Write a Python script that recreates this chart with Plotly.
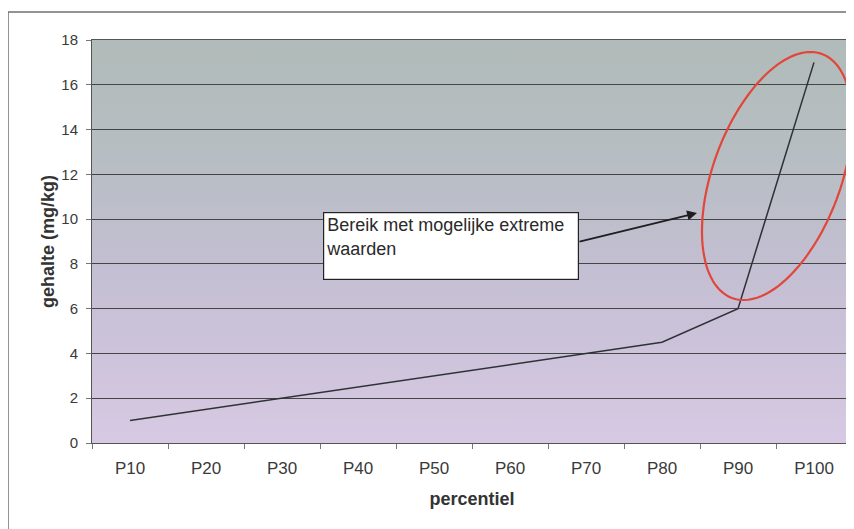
import base64
import numpy as np
import plotly.graph_objects as go

categories = ["P10", "P20", "P30", "P40", "P50", "P60", "P70", "P80", "P90", "P100"]
gehalte = [1.0, 1.5, 2.0, 2.5, 3.0, 3.5, 4.0, 4.5, 6.0, 17.0]
y_ticks = [0, 2, 4, 6, 8, 10, 12, 14, 16, 18]

# page body adds an 8px offset; figure is sized to fit inside the window
OFF = 8
W, H = 854 - OFF, 529 - OFF
L, T = 92 - OFF, 40 - OFF
R = W - (852 - OFF)
B = H - (443 - OFF)
PW, PH = W - L - R, H - T - B
FONT = "Liberation Sans, Arial, sans-serif"


def px(x):
    return (x - OFF - L) / PW


def py(y):
    return (H - B - (y - OFF)) / PH


svg = (
    '<svg xmlns="http://www.w3.org/2000/svg" width="100" height="100" preserveAspectRatio="none">'
    '<defs><linearGradient id="g" x1="0" y1="0" x2="0" y2="1">'
    '<stop offset="0" stop-color="#b1bbb9"/>'
    '<stop offset="0.3" stop-color="#b7bec3"/>'
    '<stop offset="0.6" stop-color="#c5bfd4"/>'
    '<stop offset="1" stop-color="#d7c9e3"/>'
    '</linearGradient></defs><rect width="100" height="100" fill="url(#g)"/></svg>'
)
bg_src = "data:image/svg+xml;base64," + base64.b64encode(svg.encode()).decode()

fig = go.Figure()
fig.add_trace(go.Scatter(
    x=categories, y=gehalte, mode="lines",
    line=dict(color="#2e3236", width=1.5),
    showlegend=False, hoverinfo="skip",
))

# tilted ellipse (pixel geometry -> paper)
cx, cy = 777, 176
a1, b1, a2 = 33.5, 67.1, -124.0
t = np.linspace(0, 2 * np.pi, 140)
ex = cx + a1 * np.cos(t) + b1 * np.sin(t)
ey = cy + a2 * np.cos(t)
path = "M " + " L ".join(f"{px(xx):.4f},{py(yy):.4f}" for xx, yy in zip(ex, ey)) + " Z"

shapes = [
    dict(type="rect", xref="paper", yref="paper",
         x0=px(8), x1=px(880), y0=py(560), y1=py(12),
         line=dict(color="#707070", width=1.5), layer="above"),
    dict(type="path", xref="paper", yref="paper", path=path,
         line=dict(color="#e2463a", width=2.2)),
]

annotations = [
    dict(xref="paper", yref="paper", x=px(697), y=py(213),
         ax=-119, ay=29, axref="pixel", ayref="pixel",
         text="", showarrow=True, arrowhead=2, arrowsize=1.1,
         arrowwidth=1.8, arrowcolor="#1e1e1e"),
    dict(xref="paper", yref="paper", x=px(323), y=py(212),
         xanchor="left", yanchor="top",
         text="Bereik met mogelijke extreme<br>waarden",
         showarrow=False, align="left", valign="top",
         width=250, height=62, bgcolor="white",
         bordercolor="#222", borderwidth=1.2, borderpad=2,
         font=dict(family=FONT, size=18, color="#2a2a2a")),
]

fig.update_layout(
    width=W, height=H,
    margin=dict(l=L, r=R, t=T, b=B),
    paper_bgcolor="white",
    plot_bgcolor="rgba(0,0,0,0)",
    font=dict(family=FONT, color="#333"),
    shapes=shapes,
    annotations=annotations,
    images=[dict(source=bg_src, xref="paper", yref="paper", x=0, y=1,
                 sizex=1, sizey=1, sizing="stretch", layer="below")],
    xaxis=dict(
        type="category", tickson="boundaries", ticks="outside", ticklen=5,
        tickcolor="#777", showgrid=False, showline=True, linecolor="#555",
        linewidth=1, mirror=True, tickfont=dict(size=17, color="#3a3a3a"),
        ticklabelstandoff=10, automargin=False,
        title=dict(text="<b>percentiel</b>", font=dict(size=18, color="#333"), standoff=14),
        range=[-0.5, 9.5],
    ),
    yaxis=dict(
        range=[0, 18], tickvals=y_ticks, ticks="outside", ticklen=5,
        tickcolor="#777", showgrid=True, gridcolor="#454545", gridwidth=1,
        showline=True, linecolor="#555", linewidth=1, mirror=True,
        zeroline=False, tickfont=dict(size=15, color="#3a3a3a"),
        ticklabelstandoff=5, automargin=False,
        title=dict(text="<b>gehalte (mg/kg)</b>", font=dict(size=18, color="#333"), standoff=2),
    ),
)

fig.write_html("out.html")
